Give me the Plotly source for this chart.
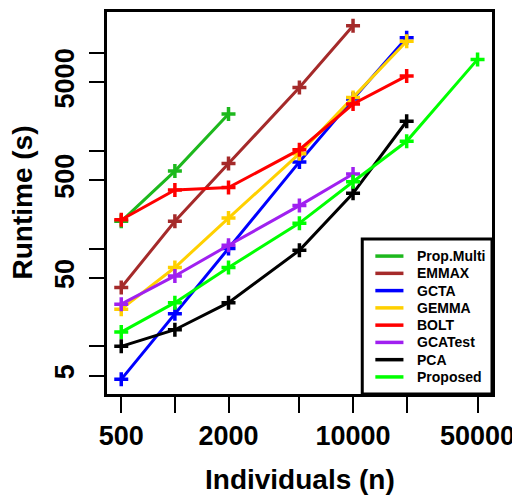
import plotly.graph_objects as go

individuals = [500, 1000, 2000, 5000, 10000, 20000, 50000]

methods = ["Prop.Multi", "EMMAX", "GCTA", "GEMMA", "BOLT", "GCATest", "PCA", "Proposed"]
colors = ["#1DB81D", "#A52A2A", "#0000FF", "#FFD000", "#FF0000", "#A020F0", "#000000", "#00FF00"]

prop_multi = [190, 620, 2380]
emmax = [40, 190, 740, 4440, 19000]
gcta = [4.6, 21.5, 100, 770, 3380, 14300]
gemma = [24, 64, 205, 935, 3515, 13200]
bolt = [197, 398, 420, 1026, 3005, 5830]
gcatest = [27, 52.5, 108, 275, 578]
pca = [10, 14.8, 28, 96, 367, 2005]
proposed = [14, 28, 64, 182, 483, 1250, 8600]

series = [prop_multi, emmax, gcta, gemma, bolt, gcatest, pca, proposed]

x_tickvals = [500, 1000, 2000, 5000, 10000, 20000, 50000]
x_ticktext = ["500", "", "2000", "", "10000", "", "50000"]
y_tickvals = [5, 10, 50, 100, 500, 1000, 5000, 10000]
y_ticktext = ["5", "", "50", "", "500", "", "5000", ""]

FONT = "Liberation Sans, Arial, Helvetica, sans-serif"

fig = go.Figure()
for name, col, vals in zip(methods, colors, series):
    fig.add_trace(go.Scatter(
        x=individuals[:len(vals)], y=vals, mode="lines+markers", name=name,
        line=dict(color=col, width=3),
        marker=dict(symbol="cross-thin", size=10, line=dict(color=col, width=3.5)),
        showlegend=False,
    ))

# manual legend box (R-style)
shapes = [dict(type="rect", xref="paper", yref="paper", x0=0.663, x1=1.0, y0=0.0, y1=0.406,
               line=dict(color="black", width=3), fillcolor="white", layer="above")]
annotations = []
for i, (name, col) in enumerate(zip(methods, colors)):
    ypix = 255 + i * 17.4
    yp = (394 - ypix) / 385
    shapes.append(dict(type="line", xref="paper", yref="paper", x0=0.697, x1=0.770, y0=yp, y1=yp,
                       line=dict(color=col, width=3.5), layer="above"))
    annotations.append(dict(text="<b>%s</b>" % name, xref="paper", yref="paper", x=0.801, y=yp,
                            xanchor="left", yanchor="middle", showarrow=False,
                            font=dict(family=FONT, size=14, color="black")))

annotations.append(dict(text="<b>Individuals (n)</b>", xref="paper", yref="paper", x=0.5, y=-0.2234,
                        xanchor="center", yanchor="middle", showarrow=False,
                        font=dict(family=FONT, size=28, color="black")))
annotations.append(dict(text="<b>Runtime (s)</b>", xref="paper", yref="paper", x=-0.222, y=0.5,
                        xanchor="center", yanchor="middle", showarrow=False, textangle=-90,
                        font=dict(family=FONT, size=28, color="black")))

fig.update_layout(
    width=512, height=488,
    margin=dict(l=99, r=28, t=1, b=102),
    paper_bgcolor="white", plot_bgcolor="white",
    shapes=shapes, annotations=annotations,
    font=dict(family=FONT, color="black"),
)
fig.update_xaxes(
    type="log", range=[2.619, 4.780], tickvals=x_tickvals, ticktext=x_ticktext,
    ticks="outside", ticklen=16, tickwidth=2, tickcolor="black",
    showline=True, linewidth=3, linecolor="black", mirror=True,
    showgrid=False, zeroline=False,
    tickfont=dict(family=FONT, size=27, color="black", weight="bold"),
)
fig.update_yaxes(
    type="log", range=[0.513, 4.419], tickvals=y_tickvals, ticktext=y_ticktext,
    ticks="outside", ticklen=15, tickwidth=2, tickcolor="black", tickangle=-90,
    ticklabelstandoff=4,
    showline=True, linewidth=3, linecolor="black", mirror=True,
    showgrid=False, zeroline=False,
    tickfont=dict(family=FONT, size=27, color="black", weight="bold"),
)

fig.write_html("out.html")
